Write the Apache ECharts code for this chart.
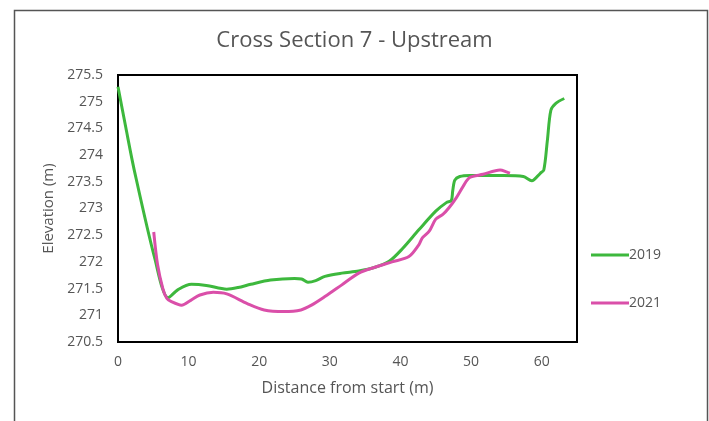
<!DOCTYPE html>
<html>
<head>
<meta charset="utf-8">
<script src="https://cdn.jsdelivr.net/npm/echarts@6/dist/echarts.min.js"></script>
<style>html,body{margin:0;padding:0;background:#fff;}#chart{width:709px;height:421px;}</style>
</head>
<body>
<div id="chart"></div>
<script>
var titleText = "Cross Section 7 - Upstream";
var xAxisName = "Distance from start (m)";
var yAxisName = "Elevation (m)";
var seriesNames = ["2019", "2021"];

var data2019 = [
  [0, 275.28], [1.1, 274.52], [2.3, 273.72], [5.2, 272.07], [7.1, 271.33], [8.5, 271.48],
  [10.4, 271.58], [12.5, 271.56], [15.4, 271.49], [17, 271.52], [18.8, 271.58], [21.6, 271.66],
  [25, 271.69], [26, 271.68], [26.9, 271.62], [28, 271.65], [29.3, 271.73], [31.7, 271.79],
  [34.1, 271.83], [36.4, 271.9], [38.4, 272.01], [40.3, 272.25], [42.6, 272.6], [45.0, 272.95],
  [46.5, 273.11], [47.2, 273.15], [47.4, 273.33], [47.7, 273.53], [48.4, 273.6], [49.8, 273.62],
  [54.6, 273.62], [57.4, 273.6], [58.6, 273.52], [59.8, 273.66], [60.3, 273.72], [60.8, 274.27],
  [61.3, 274.84], [62.0, 274.97], [63.2, 275.06]
];

var data2021 = [
  [5.06, 272.56], [5.6, 271.95], [6.35, 271.5], [6.9, 271.32], [7.5, 271.26], [9.0, 271.19],
  [10.3, 271.28], [11.6, 271.38], [13.5, 271.43], [15.4, 271.4], [18.3, 271.22], [20.7, 271.1],
  [23.5, 271.07], [25.9, 271.1], [27.4, 271.19], [29.3, 271.35], [31.7, 271.57], [34.1, 271.79],
  [36.4, 271.9], [38.8, 272.0], [41.2, 272.1], [42.6, 272.32], [43.1, 272.45], [44.1, 272.58],
  [45.0, 272.8], [46, 272.89], [46.9, 273.02], [47.9, 273.2], [48.9, 273.42], [49.8, 273.58],
  [51.7, 273.64], [54.1, 273.72], [55.1, 273.68], [55.5, 273.66]
];

var colors = ["#3DB83D", "#DA4FA9"];
var fontFam = "'Open Sans', 'Liberation Sans', sans-serif";
var textColor = "#555555";

var chart = echarts.init(document.getElementById('chart'), null, {renderer: 'canvas'});
chart.setOption({
  animation: false,
  backgroundColor: '#fff',
  title: {
    text: titleText, left: 'center', top: 25,
    textStyle: {fontFamily: fontFam, fontSize: 22, fontWeight: 'normal', color: textColor}
  },
  graphic: [{
    type: 'rect', left: 12, top: 8, z: -1,
    shape: {width: 693, height: 430},
    style: {fill: 'none', stroke: '#555', lineWidth: 1.5}
  }],
  grid: {left: 118, right: 132, top: 75, bottom: 79, show: true, borderColor: '#000', borderWidth: 2, containLabel: false},
  legend: {
    orient: 'vertical', left: 591, top: 248, itemGap: 34, padding: 0,
    itemWidth: 38, itemHeight: 3, icon: 'rect',
    textStyle: {fontFamily: fontFam, fontSize: 14, color: textColor, padding: [0, 0, 0, -5]},
    data: seriesNames
  },
  xAxis: {
    type: 'value', min: 0, max: 65, interval: 10,
    name: xAxisName, nameLocation: 'middle', nameGap: 38,
    nameTextStyle: {fontFamily: fontFam, fontSize: 16, color: textColor},
    axisLine: {show: true, lineStyle: {color: '#000', width: 2}},
    axisTick: {show: false},
    splitLine: {show: false},
    axisLabel: {fontFamily: fontFam, fontSize: 14, color: textColor, margin: 13,
      formatter: function (v) { return v % 10 === 0 ? String(v) : ''; }}
  },
  yAxis: {
    type: 'value', min: 270.5, max: 275.5, interval: 0.5,
    name: yAxisName, nameLocation: 'middle', nameGap: 62,
    nameTextStyle: {fontFamily: fontFam, fontSize: 15, color: textColor},
    axisLine: {show: true, lineStyle: {color: '#000', width: 2}},
    axisTick: {show: false},
    splitLine: {show: false},
    axisLabel: {fontFamily: fontFam, fontSize: 14, color: textColor, margin: 15,
      formatter: function (v) { return String(Math.round(v * 10) / 10); }}
  },
  series: [
    {name: seriesNames[0], type: 'line', data: data2019, smooth: 0.3, showSymbol: false, symbol: 'none',
     lineStyle: {color: colors[0], width: 3}, itemStyle: {color: colors[0]}},
    {name: seriesNames[1], type: 'line', data: data2021, smooth: 0.3, showSymbol: false, symbol: 'none',
     lineStyle: {color: colors[1], width: 3}, itemStyle: {color: colors[1]}}
  ]
});
</script>
</body>
</html>
